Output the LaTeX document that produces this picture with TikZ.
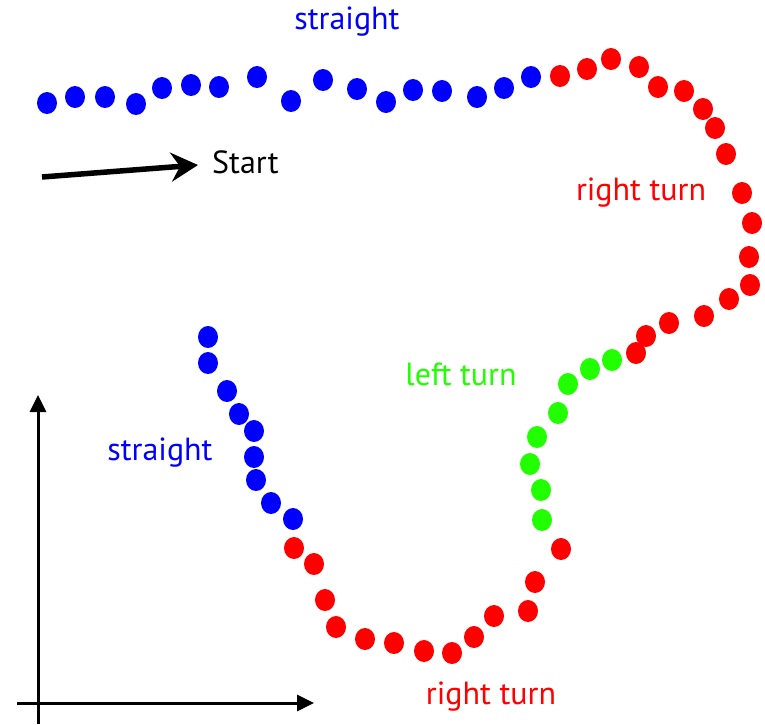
\documentclass[tikz,border=0pt]{standalone}
\usepackage{fontspec}
\setmainfont{PT Sans}
\usetikzlibrary{arrows.meta}

\definecolor{pathblue}{RGB}{0,0,255}
\definecolor{pathred}{RGB}{255,0,0}
\definecolor{pathgreen}{RGB}{34,255,0}

\begin{document}
\begin{tikzpicture}[x=1pt, y=-1pt, >=Stealth,
    trackdot/.style={fill=#1, draw=none},
    tag/.style={font=\fontsize{32}{35}\selectfont, text=#1, inner sep=0pt}]

  \useasboundingbox (0,0) rectangle (765,724);

  % Top straight section (blue)
  \foreach \x/\y in {47/103, 75/97, 105/97, 136/104, 162/88, 191/85, 219/87, 257/77,
                     291/101, 323/80, 357/89, 386/102, 413/90, 442/91, 477/97, 504/88, 531/77} {
    \fill[trackdot=pathblue] (\x,\y) ellipse [x radius=10pt, y radius=11pt];
  }

  % Right turn (red)
  \foreach \x/\y in {560/76, 587/69, 611/59, 639/67, 658/87, 684/91, 703/109, 715/128, 726/154,
                     742/193, 752/223, 749/257, 750/285, 729/299, 704/316, 669/323, 646/336, 636/353} {
    \fill[trackdot=pathred] (\x,\y) ellipse [x radius=10pt, y radius=11pt];
  }

  % Left turn (green)
  \foreach \x/\y in {612/360, 590/369, 568/384, 558/413, 537/437, 530/464, 541/490, 542/520} {
    \fill[trackdot=pathgreen] (\x,\y) ellipse [x radius=10pt, y radius=11pt];
  }

  % Bottom right turn (red)
  \foreach \x/\y in {561/549, 535/582, 528/611, 494/616, 474/637, 452/653, 424/651,
                     394/643, 365/639, 336/627, 325/600, 314/564, 294/548} {
    \fill[trackdot=pathred] (\x,\y) ellipse [x radius=10pt, y radius=11pt];
  }

  % Final straight section (blue)
  \foreach \x/\y in {293/519, 271/503, 256/480, 254/457, 254/431, 239/414, 227/391, 208/363, 208/337} {
    \fill[trackdot=pathblue] (\x,\y) ellipse [x radius=10pt, y radius=11pt];
  }

  % Labels
  \node[tag=pathblue] (topStraight) at (347,22) {straight};
  \node[tag=pathred] (rightTurnA) at (641,193) {right turn};
  \node[tag=pathgreen] (leftTurn) at (461,374) {left turn};
  \node[tag=pathblue] (lowStraight) at (160,453) {straight};
  \node[tag=pathred] (rightTurnB) at (491,697) {right turn};

  % Start arrow
  \coordinate (startTail) at (42,177);
  \coordinate (startHead) at (198,165);
  \draw[line width=5.5pt, -{Stealth[length=27pt, width=29pt, inset=9pt]}] (startTail) -- (startHead);
  \node[tag=black, anchor=west] (startText) at (212,162) {Start};

  % Axes
  \coordinate (yBase) at (38,724);
  \coordinate (yTip) at (38,395);
  \coordinate (xBase) at (17,703);
  \coordinate (xTip) at (314,703);
  \draw[line width=3pt, -{Triangle[length=17pt, width=16pt]}] (yBase) -- (yTip);
  \draw[line width=3pt, -{Triangle[length=17pt, width=16pt]}] (xBase) -- (xTip);

\end{tikzpicture}
\end{document}
